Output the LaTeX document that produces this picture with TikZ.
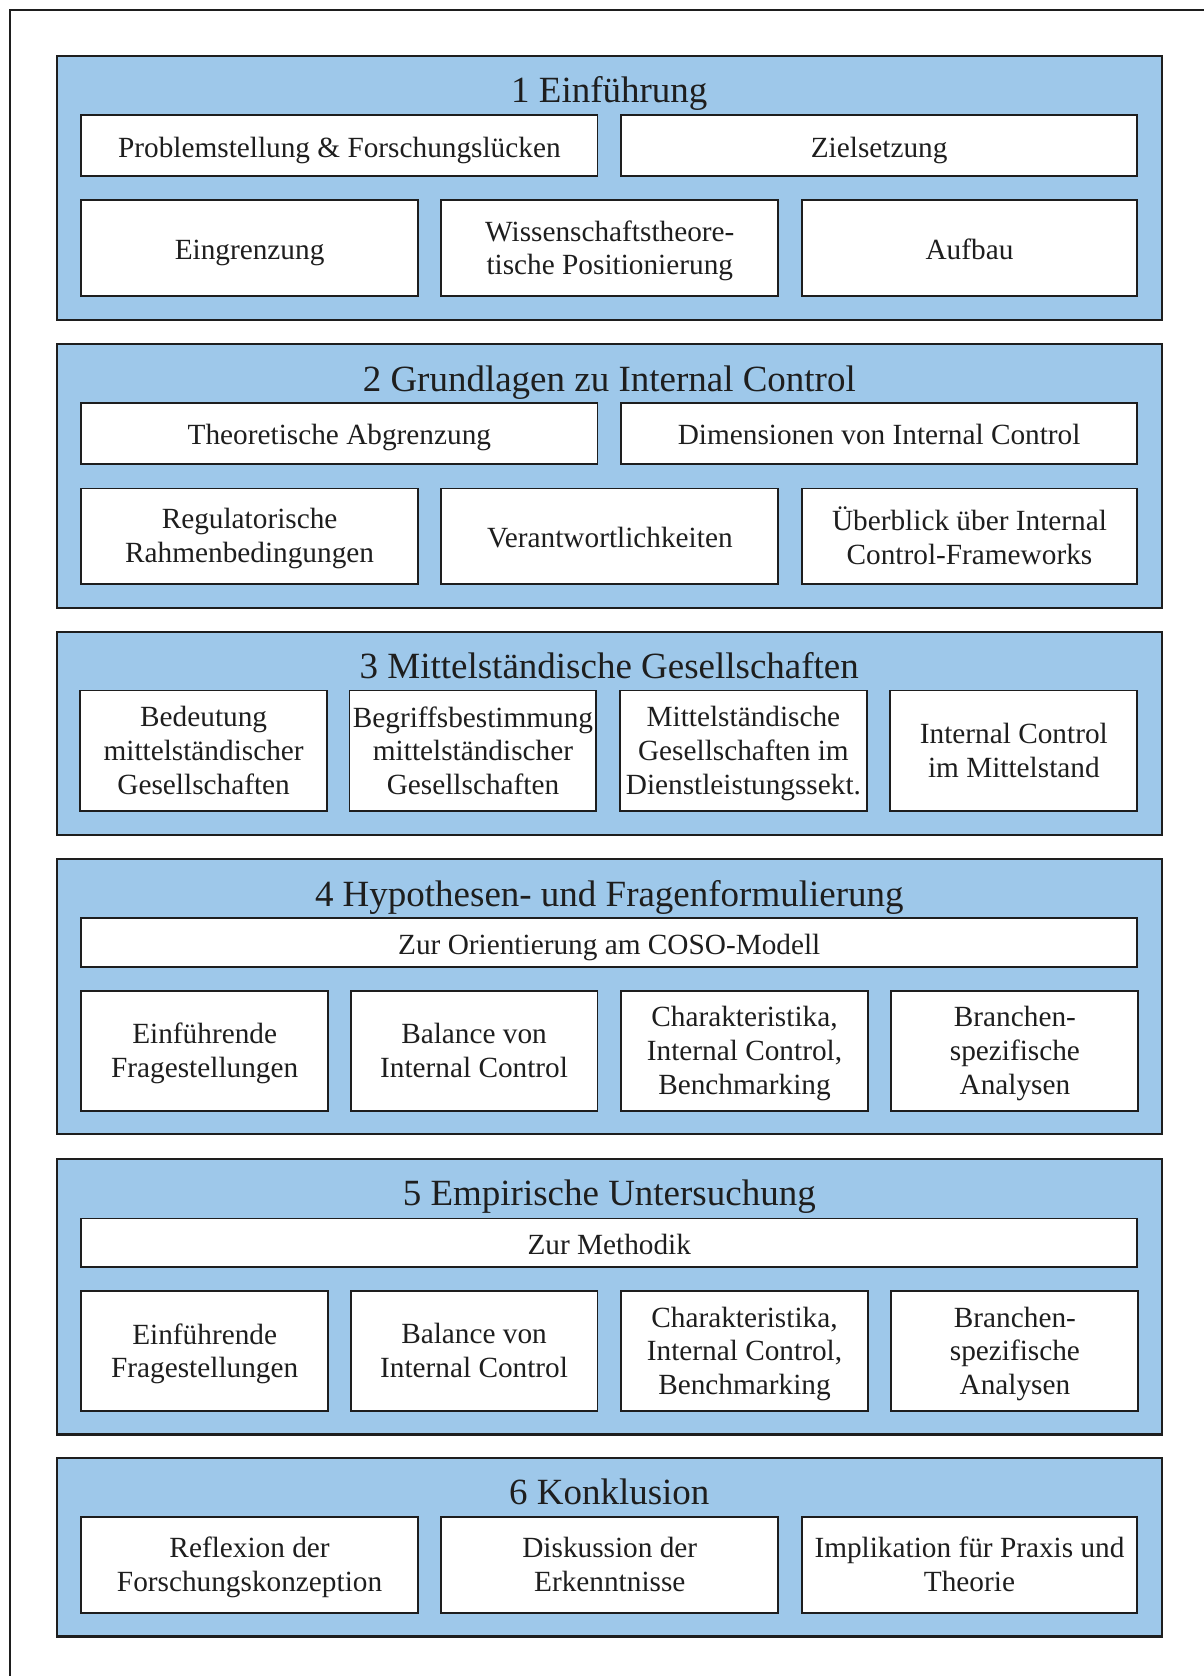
\documentclass[tikz,border=0pt]{standalone}
\usepackage{fontspec}
\setmainfont{Liberation Serif}
\usetikzlibrary{fit}
\definecolor{secblue}{RGB}{158,200,234}
\definecolor{ink}{RGB}{30,30,30}
\tikzset{
  section/.style={draw=ink, line width=1pt, fill=secblue, inner sep=0pt},
  item/.style={draw=ink, line width=0.9pt, fill=white, inner sep=0pt},
  itemtext/.style={align=center, text=ink, inner sep=0pt, yshift=-2.2pt,
    font=\fontsize{13.7}{15.8}\selectfont,
    execute at begin node=\strut, execute at end node=\strut},
  sectitle/.style={anchor=base, text=ink, font=\fontsize{17.3}{20}\selectfont},
  frameline/.style={draw=ink, line width=1pt}
}
% a white box spanning two corners, with its centred label
\newcommand\labelbox[4]{%
  \node[item, fit={#2 #3}] (#1) {};
  \node[itemtext] (#1-l) at (#1.center) {#4};
}
\begin{document}
\begin{tikzpicture}[x=0.5pt, y=-0.5pt]
\useasboundingbox (0,0) rectangle (1126,1568);

% outer page frame (left and top edges only)
\coordinate (fbl) at (9,1568);
\coordinate (ftl) at (9,9);
\coordinate (ftr) at (1126,9);
\draw[frameline] (fbl) -- (ftl) -- (ftr);

% ---------- 1 Einführung ----------
\node[section, fit={(53,52) (1087,299)}] (s1) {};
\node[sectitle] (t1) at (570,96) {1 Einführung};
\labelbox{b11}{(76,108)}{(559,165)}{Problemstellung \& Forschungslücken}
\labelbox{b12}{(581,108)}{(1064,165)}{Zielsetzung}
\labelbox{b13}{(76,187)}{(391,277)}{Eingrenzung}
\labelbox{b14}{(413,187)}{(728,277)}{Wissenschaftstheore-\\tische Positionierung}
\labelbox{b15}{(750,187)}{(1064,277)}{Aufbau}

% ---------- 2 Grundlagen ----------
\node[section, fit={(53,322) (1087,569)}] (s2) {};
\node[sectitle] (t2) at (570,366) {2 Grundlagen zu Internal Control};
\labelbox{b21}{(76,377)}{(559,434)}{Theoretische Abgrenzung}
\labelbox{b22}{(581,377)}{(1064,434)}{Dimensionen von Internal Control}
\labelbox{b23}{(76,457)}{(391,546)}{Regulatorische\\Rahmenbedingungen}
\labelbox{b24}{(413,457)}{(728,546)}{Verantwortlichkeiten}
\labelbox{b25}{(750,457)}{(1064,546)}{Überblick über Internal\\Control-Frameworks}

% ---------- 3 Mittelständische Gesellschaften ----------
\node[section, fit={(53,591) (1087,781)}] (s3) {};
\node[sectitle] (t3) at (570,635) {3 Mittelständische Gesellschaften};
\labelbox{b31}{(75,646)}{(306,759)}{Bedeutung\\mittelständischer\\Gesellschaften}
\labelbox{b32}{(327,646)}{(558,759)}{Begriffsbestimmung\\mittelständischer\\Gesellschaften}
\labelbox{b33}{(580,646)}{(811,759)}{Mittelständische\\Gesellschaften im\\Dienstleistungssekt.}
\labelbox{b34}{(833,646)}{(1064,759)}{Internal Control\\im Mittelstand}

% ---------- 4 Hypothesen ----------
\node[section, fit={(53,804) (1087,1061)}] (s4) {};
\node[sectitle] (t4) at (570,848) {4 Hypothesen- und Fragenformulierung};
\labelbox{b40}{(76,859)}{(1064,905)}{Zur Orientierung am COSO-Modell}
\labelbox{b41}{(76,927)}{(307,1039)}{Einführende\\Fragestellungen}
\labelbox{b42}{(328,927)}{(559,1039)}{Balance von\\Internal Control}
\labelbox{b43}{(581,927)}{(812,1039)}{Charakteristika,\\Internal Control,\\Benchmarking}
\labelbox{b44}{(834,927)}{(1065,1039)}{Branchen-\\spezifische\\Analysen}

% ---------- 5 Empirische Untersuchung ----------
\node[section, fit={(53,1084) (1087,1342)}] (s5) {};
\node[sectitle] (t5) at (570,1128) {5 Empirische Untersuchung};
\labelbox{b50}{(76,1140)}{(1064,1185)}{Zur Methodik}
\labelbox{b51}{(76,1208)}{(307,1320)}{Einführende\\Fragestellungen}
\labelbox{b52}{(328,1208)}{(559,1320)}{Balance von\\Internal Control}
\labelbox{b53}{(581,1208)}{(812,1320)}{Charakteristika,\\Internal Control,\\Benchmarking}
\labelbox{b54}{(834,1208)}{(1065,1320)}{Branchen-\\spezifische\\Analysen}

% ---------- 6 Konklusion ----------
\node[section, fit={(53,1364) (1087,1531)}] (s6) {};
\node[sectitle] (t6) at (570,1408) {6 Konklusion};
\labelbox{b61}{(76,1419)}{(391,1509)}{Reflexion der\\Forschungskonzeption}
\labelbox{b62}{(413,1419)}{(728,1509)}{Diskussion der\\Erkenntnisse}
\labelbox{b63}{(750,1419)}{(1064,1509)}{Implikation für Praxis und\\Theorie}
\end{tikzpicture}
\end{document}
